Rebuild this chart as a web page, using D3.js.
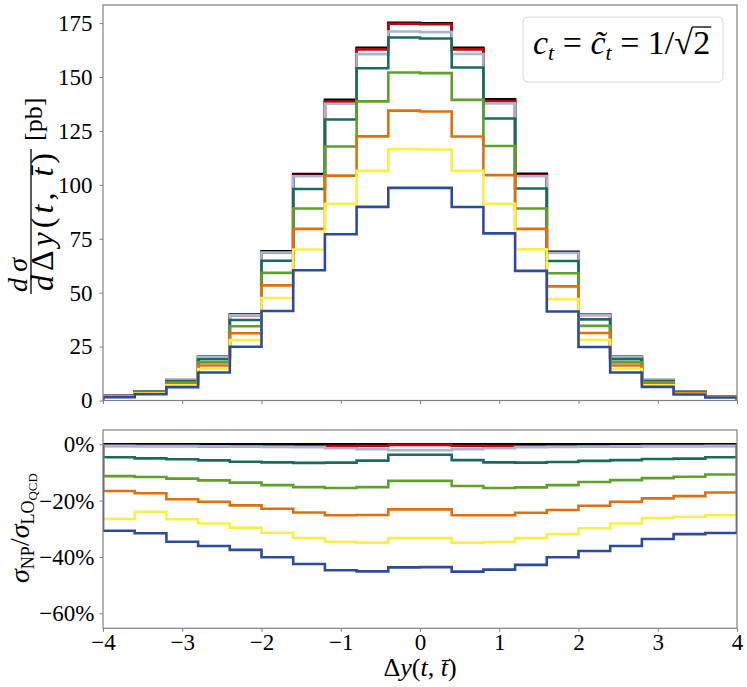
<!DOCTYPE html>
<html><head><meta charset="utf-8">
<script src="https://cdn.jsdelivr.net/npm/d3@7/dist/d3.min.js"></script>
<style>
body{margin:0;background:#fff}
svg{display:block}
text{font-family:"Liberation Serif","DejaVu Serif",serif;fill:#000}
</style>
</head><body>
<svg id="chart" width="747" height="687"></svg>
<script>
// ---------------- DATA ----------------
const binEdges = [-4,-3.6,-3.2,-2.8,-2.4,-2,-1.6,-1.2,-0.8,-0.4,0,0.4,0.8,1.2,1.6,2,2.4,2.8,3.2,3.6,4];
const xTicks = [-4,-3,-2,-1,0,1,2,3,4];
const yTicksTop = [0,25,50,75,100,125,150,175];
const yTicksBottom = [0,-20,-40,-60];

const seriesNames = ["black","red","lightblue","teal","green","orange","yellow","blue"];

// d sigma / d Delta y  [pb]
const xsecBlack     = [2.2,4.2,9.5,20.3,39.8,69.2,105.0,139.4,163.6,175.2,174.9,163.6,139.7,105.1,69.0,40.0,20.3,9.5,4.1,2.0];
const xsecRed       = [2.2,4.2,9.4,20.1,39.5,68.7,104.2,138.6,162.8,174.7,174.5,162.8,138.9,104.3,68.5,39.7,20.1,9.4,4.1,2.0];
const xsecLightblue = [2.2,4.2,9.4,20.2,39.5,68.6,104.0,137.6,160.6,171.1,170.8,160.7,137.8,104.0,68.4,39.7,20.2,9.4,4.1,2.0];
const xsecTeal      = [2.1,4.0,9.0,19.1,37.3,64.8,98.1,130.3,154.1,168.3,167.9,154.4,130.8,98.3,64.7,37.6,19.2,9.0,3.9,1.9];
const xsecGreen     = [1.95,3.7,8.3,17.7,34.4,59.2,89.0,117.8,138.7,152.1,151.8,139.4,118.0,89.0,59.0,34.6,17.7,8.4,3.6,1.8];
const xsecOrange    = [1.8,3.5,7.6,16.2,31.2,53.4,79.6,104.3,122.5,134.4,134.0,122.4,104.5,79.6,52.9,31.3,16.2,7.7,3.3,1.7];
const xsecYellow    = [1.6,3.2,7.0,14.6,28.0,47.5,70.0,91.2,106.5,116.5,116.4,106.5,91.2,70.1,47.0,28.1,14.6,7.0,3.0,1.5];
const xsecBlue      = [1.5,2.9,6.2,13.0,24.9,41.5,60.4,77.1,89.8,98.6,98.6,89.7,77.5,60.1,41.3,24.8,13.0,6.3,2.8,1.4];

// ratio panel, percent
const pctBlack     = [0,0,0,0,0,0,0,0,0,0,0,0,0,0,0,0,0,0,0,0];
const pctRed       = [-0.6,-0.6,-0.6,-0.7,-0.7,-0.7,-0.7,-0.6,-0.5,-0.2,-0.2,-0.5,-0.6,-0.7,-0.7,-0.7,-0.7,-0.6,-0.6,-0.6];
const pctLightblue = [-0.5,-0.6,-0.6,-0.7,-0.8,-0.9,-1.0,-1.4,-1.7,-2.1,-2.1,-1.7,-1.4,-1.0,-0.9,-0.8,-0.7,-0.6,-0.6,-0.5];
const pctTeal      = [-4.6,-5.0,-5.3,-5.7,-6.2,-6.4,-6.6,-6.5,-5.8,-3.7,-3.7,-5.6,-6.4,-6.5,-6.3,-5.9,-5.6,-5.2,-5.1,-4.6];
const pctGreen     = [-11.3,-11.6,-12.2,-12.8,-13.6,-14.5,-15.2,-15.5,-15.2,-13.0,-13.0,-14.8,-15.5,-15.3,-14.5,-13.4,-12.7,-12.0,-11.5,-10.7];
const pctOrange    = [-16.6,-17.4,-19.5,-20.4,-21.7,-22.9,-24.2,-25.2,-25.1,-23.1,-23.1,-25.2,-25.2,-24.3,-23.3,-21.8,-20.4,-19.2,-18.4,-17.1];
const pctYellow    = [-26.5,-24.0,-26.6,-28.1,-29.6,-31.4,-33.3,-34.6,-34.9,-33.3,-33.3,-34.9,-34.7,-33.3,-31.9,-29.8,-28.1,-26.2,-25.7,-25.2];
const pctBlue      = [-30.7,-31.6,-34.6,-36.1,-37.5,-40.1,-42.5,-44.7,-45.1,-43.7,-43.6,-45.2,-44.5,-42.8,-40.1,-37.9,-36.1,-33.6,-31.9,-31.5];

// ---------------- STYLE ----------------
const seriesColors = ["#000000","#c4000f","#a8b5d5","#1b6b5a","#5f9f2c","#e0700e","#fcee4a","#2e4a9a"];
const topData = [xsecBlack,xsecRed,xsecLightblue,xsecTeal,xsecGreen,xsecOrange,xsecYellow,xsecBlue];
const botData = [pctBlack,pctRed,pctLightblue,pctTeal,pctGreen,pctOrange,pctYellow,pctBlue];

const frameColor = "#808080";
const svg = d3.select("#chart");
svg.append("rect").attr("width",747).attr("height",687).attr("fill","#fff");

const L=103, R=737;
const T1=5, B1=400.5, T2=430, B2=628.3;
const x = d3.scaleLinear().domain([-4,4]).range([L,R]);
const yTop = d3.scaleLinear().domain([0,183.4]).range([B1,T1]);
const yBot = d3.scaleLinear().domain([-65.33,5.08]).range([B2,T2]);

const defs = svg.append("defs");
defs.append("clipPath").attr("id","clipTop").append("rect").attr("x",L).attr("y",T1).attr("width",R-L).attr("height",B1-T1);
defs.append("clipPath").attr("id","clipBot").append("rect").attr("x",L).attr("y",T2).attr("width",R-L).attr("height",B2-T2);

function stepPts(vals){
  const pts=[[binEdges[0],0]];
  vals.forEach((v,i)=>{pts.push([binEdges[i],v]);pts.push([binEdges[i+1],v]);});
  pts.push([binEdges[binEdges.length-1],0]);
  return pts;
}

function drawSeries(g, data, yScale){
  const line = d3.line().x(d=>x(d[0])).y(d=>yScale(d[1]));
  g.selectAll("path.s").data(data).enter().append("path")
    .attr("class","s")
    .attr("d",d=>line(stepPts(d)))
    .attr("fill","none")
    .attr("stroke",(d,i)=>seriesColors[i])
    .attr("stroke-width",2.6)
    .attr("stroke-linejoin","miter");
}

const gTop = svg.append("g").attr("clip-path","url(#clipTop)");
drawSeries(gTop, topData, yTop);
const gBot = svg.append("g").attr("clip-path","url(#clipBot)");
drawSeries(gBot, botData, yBot);

// frames
[[T1,B1],[T2,B2]].forEach(([t,b])=>{
  svg.append("rect").attr("x",L).attr("y",t).attr("width",R-L).attr("height",b-t)
    .attr("fill","none").attr("stroke",frameColor).attr("stroke-width",1.2);
});

function styleAxis(g){
  g.select(".domain").remove();
  g.selectAll(".tick line").attr("stroke",frameColor).attr("stroke-width",1);
  g.selectAll(".tick text").attr("font-size",23).attr("fill","#000")
   .attr("font-family",'"Liberation Serif","DejaVu Serif",serif');
}

// top axes
svg.append("g").attr("transform",`translate(${L},0)`)
  .call(d3.axisLeft(yTop).tickValues(yTicksTop).tickSize(3.5).tickPadding(7).tickFormat(d3.format("d")))
  .call(styleAxis);
svg.append("g").attr("transform",`translate(0,${B1})`)
  .call(d3.axisBottom(x).tickValues(xTicks).tickSize(3.5).tickFormat(""))
  .call(styleAxis);

// bottom axes
svg.append("g").attr("transform",`translate(${L},0)`)
  .call(d3.axisLeft(yBot).tickValues(yTicksBottom).tickSize(3.5).tickPadding(5)
     .tickFormat(d=>(d<0?"\u2212":"")+Math.abs(d)+"%"))
  .call(styleAxis);
svg.append("g").attr("transform",`translate(0,${B2})`)
  .call(d3.axisBottom(x).tickValues(xTicks).tickSize(3.5).tickPadding(2)
     .tickFormat(d=>(d<0?"\u2212":"")+Math.abs(d)))
  .call(styleAxis);

// x label
const xl = svg.append("text").attr("x",420).attr("y",676).attr("text-anchor","middle").attr("font-size",26);
xl.append("tspan").text("\u0394");
xl.append("tspan").attr("font-style","italic").text("y");
xl.append("tspan").text("(");
xl.append("tspan").attr("font-style","italic").text("t");
xl.append("tspan").text(", ");
xl.append("tspan").attr("font-style","italic").text("t\u0304");
xl.append("tspan").text(")");

// top y label (rotated fraction)
const yl = svg.append("g").attr("transform","translate(30,294) rotate(-90)");
yl.append("text").attr("x",2).attr("y",-3).attr("font-size",28).attr("font-style","italic")
  .attr("textLength",34).attr("lengthAdjust","spacing").text("d\u03C3");
const den = yl.append("text").attr("x",3).attr("y",23).attr("font-size",32)
  .attr("textLength",138).attr("lengthAdjust","spacing");
den.append("tspan").attr("font-style","italic").text("d");
den.append("tspan").text("\u0394");
den.append("tspan").attr("font-style","italic").text("y");
den.append("tspan").text("(");
den.append("tspan").attr("font-style","italic").text("t");
den.append("tspan").text(", ");
den.append("tspan").attr("font-style","italic").text("t\u0304");
den.append("tspan").text(")");
yl.append("line").attr("x1",0).attr("x2",145).attr("y1",1).attr("y2",1).attr("stroke","#000").attr("stroke-width",1.3);
yl.append("text").attr("x",153).attr("y",12).attr("font-size",26).text("[pb]");

// bottom y label
const yb = svg.append("text").attr("transform","translate(29,528) rotate(-90)").attr("text-anchor","middle").attr("font-size",28);
yb.append("tspan").attr("font-style","italic").text("\u03C3");
yb.append("tspan").attr("font-size",18).attr("dy",5).text("NP");
yb.append("tspan").attr("dy",-5).text("/");
yb.append("tspan").attr("font-style","italic").text("\u03C3");
yb.append("tspan").attr("font-size",18).attr("dy",5).text("LO");
yb.append("tspan").attr("font-size",13).attr("dy",3).text("QCD");

// legend
svg.append("rect").attr("x",523).attr("y",17).attr("width",200).attr("height",65).attr("rx",5)
  .attr("fill","#fff").attr("fill-opacity",0.8).attr("stroke","#d9d9d9").attr("stroke-width",1);
const lg = svg.append("text").attr("x",533).attr("y",54).attr("font-size",34);
lg.append("tspan").attr("font-style","italic").text("c");
lg.append("tspan").attr("font-style","italic").attr("font-size",22).attr("dy",6).text("t");
lg.append("tspan").attr("dy",-6).text(" = ");
lg.append("tspan").attr("font-style","italic").text("c\u0303");
lg.append("tspan").attr("font-style","italic").attr("font-size",22).attr("dy",6).text("t");
lg.append("tspan").attr("dy",-6).text(" = 1/\u221A");
const lb = lg.node().getBBox();
const two = svg.append("text").attr("x",lb.x+lb.width).attr("y",54).attr("font-size",34).text("2");
const tb = two.node().getBBox();
svg.append("line").attr("x1",lb.x+lb.width-1).attr("x2",tb.x+tb.width+1)
  .attr("y1",lb.y+3).attr("y2",lb.y+3).attr("stroke","#000").attr("stroke-width",1.3);
</script>
</body></html>
